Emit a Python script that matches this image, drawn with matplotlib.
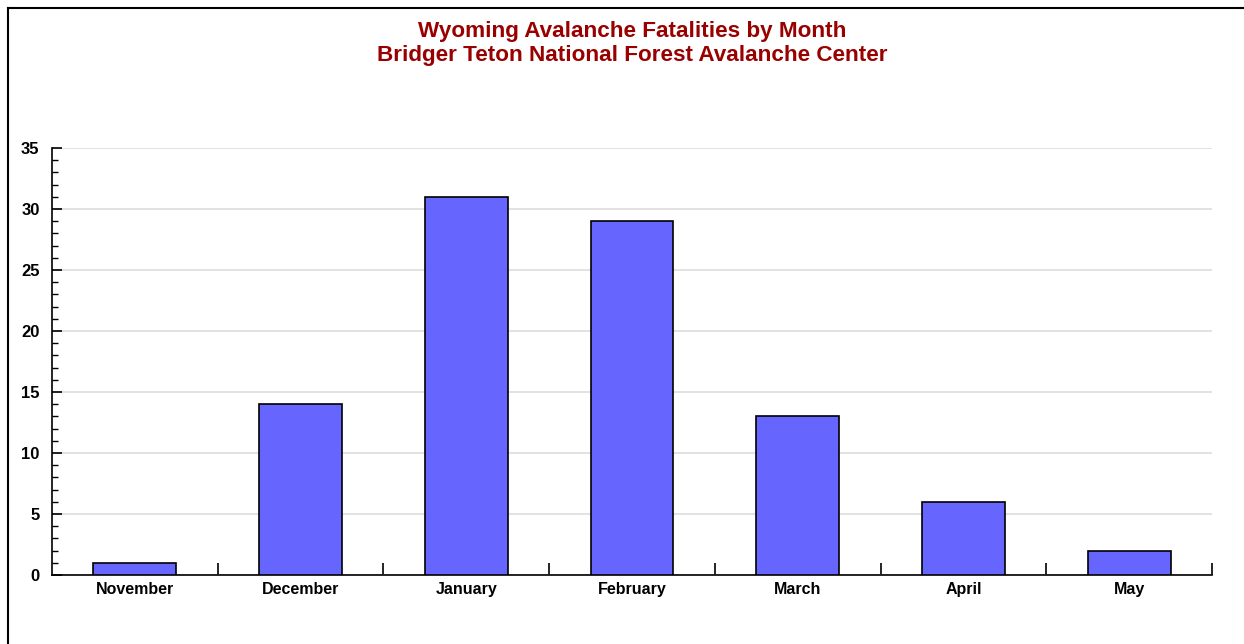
import numpy as np
import matplotlib
matplotlib.use("Agg")
import matplotlib.pyplot as plt
from matplotlib.lines import Line2D
from matplotlib.ticker import MultipleLocator

months = ["November", "December", "January", "February", "March", "April", "May"]
fatalities = [1, 14, 31, 29, 13, 6, 2]
y_ticks = [0, 5, 10, 15, 20, 25, 30, 35]

plt.rcParams['font.family'] = ['Liberation Sans', 'DejaVu Sans']

W, H = 1244, 644
fig = plt.figure(figsize=(W / 100, H / 100), dpi=100)
ax = fig.add_axes([52 / W, 1 - 575 / H, (1212 - 52) / W, (575 - 148) / H])

x = np.arange(len(months))
ax.bar(x, fatalities, width=0.5, color="#6666ff", edgecolor="black", linewidth=1.2, zorder=3)

ax.set_xlim(-0.5, len(months) - 0.5)
ax.set_ylim(0, 35)

ax.set_yticks(y_ticks)
ax.yaxis.set_minor_locator(MultipleLocator(1))
ax.set_yticklabels([str(v) for v in y_ticks], fontsize=12, fontweight="bold")
ax.tick_params(axis="y", which="major", direction="in", length=7, width=1.2, pad=9)
ax.tick_params(axis="y", which="minor", direction="in", length=4, width=1.0)

# month labels at centres, ticks at category boundaries
ax.set_xticks(x)
ax.set_xticklabels(months, fontsize=11.5, fontweight="bold")
ax.tick_params(axis="x", which="major", length=0, pad=5)
ax.set_xticks(np.arange(0.5, len(months), 1), minor=True)
ax.tick_params(axis="x", which="minor", direction="in", length=9, width=1.2)

ax.grid(axis="y", color="#dddddd", linewidth=1.2, zorder=0)
for side in ["top", "right"]:
    ax.spines[side].set_visible(False)
for side in ["left", "bottom"]:
    ax.spines[side].set_linewidth(1.2)

fig.text(632 / W, 1 - 31 / H, "Wyoming Avalanche Fatalities by Month",
         color="#990000", fontsize=16.2, fontweight="bold", ha="center", va="center")
fig.text(632 / W, 1 - 55 / H, "Bridger Teton National Forest Avalanche Center",
         color="#990000", fontsize=16.2, fontweight="bold", ha="center", va="center")

# frame lines on left and top
fig.add_artist(Line2D([8 / W, 8 / W], [0, 1 - 8 / H], color="black", linewidth=1.5))
fig.add_artist(Line2D([8 / W, 1], [1 - 8 / H, 1 - 8 / H], color="black", linewidth=1.5))

fig.savefig("out.png", dpi=100)
